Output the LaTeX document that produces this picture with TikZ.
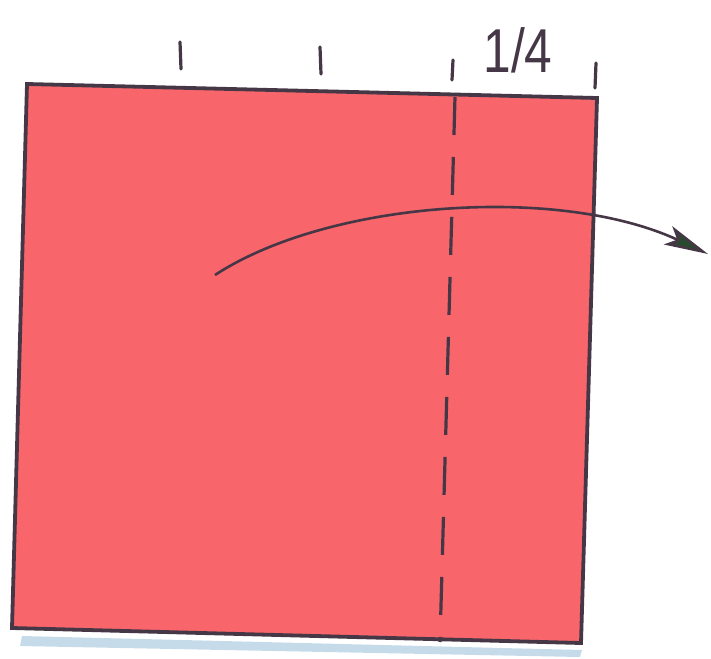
\documentclass[tikz,border=0pt]{standalone}
\usepackage{fontspec}
\setmainfont{Liberation Sans}
\usetikzlibrary{arrows.meta}
\definecolor{paper}{RGB}{248,102,108}
\definecolor{edge}{RGB}{70,55,70}
\definecolor{arrowgreen}{RGB}{40,75,45}
\definecolor{shadowblue}{RGB}{175,205,225}
\tikzset{
  sheet/.style={fill=paper, draw=edge, line width=3.8pt, line join=miter},
  tick/.style={draw=edge, line width=3.2pt, line cap=round},
  foldline/.style={draw=edge, line width=3.2pt, dash pattern=on 38pt off 22pt},
  movearrow/.style={draw=edge, line width=2.6pt, -{Stealth[length=44pt,width=20pt,inset=10pt,fill=arrowgreen]}},
  label/.style={font=\fontsize{62}{62}\selectfont, text=edge, inner sep=0pt}
}
\begin{document}
\begin{tikzpicture}[x=1pt,y=-1pt]
\useasboundingbox (0,0) rectangle (711,658);
\fill[white] (0,0) rectangle (711,658);
% shadow under sheet
\fill[shadowblue, opacity=0.7] (22,636) -- (582,650) -- (580,657) -- (20,646) -- cycle;
% corners
\coordinate (tl) at (27,84);
\coordinate (tr) at (597,98);
\coordinate (br) at (581,643);
\coordinate (bl) at (12,628);
\draw[sheet] (tl) -- (tr) -- (br) -- (bl) -- cycle;
% fold line
\coordinate (ftop) at (455,97);
\coordinate (fbot) at (440,642);
\draw[foldline] (ftop) -- (fbot);
% ticks
\coordinate (t1a) at (180,42); \coordinate (t1b) at (181,69);
\coordinate (t2a) at (320,47); \coordinate (t2b) at (321,74);
\coordinate (t3a) at (453,60); \coordinate (t3b) at (452,80);
\coordinate (t4a) at (596,63); \coordinate (t4b) at (595,88);
\draw[tick] (t1a) -- (t1b);
\draw[tick] (t2a) -- (t2b);
\draw[tick] (t3a) -- (t3b);
\draw[tick] (t4a) -- (t4b);
\node[label, xscale=0.8] (quarter) at (518,50) {1/4};
% arrow
\coordinate (astart) at (215,275);
\coordinate (aend) at (708,254);
\draw[movearrow] (astart) .. controls (330,200) and (560,185) .. (aend);
\end{tikzpicture}
\end{document}
